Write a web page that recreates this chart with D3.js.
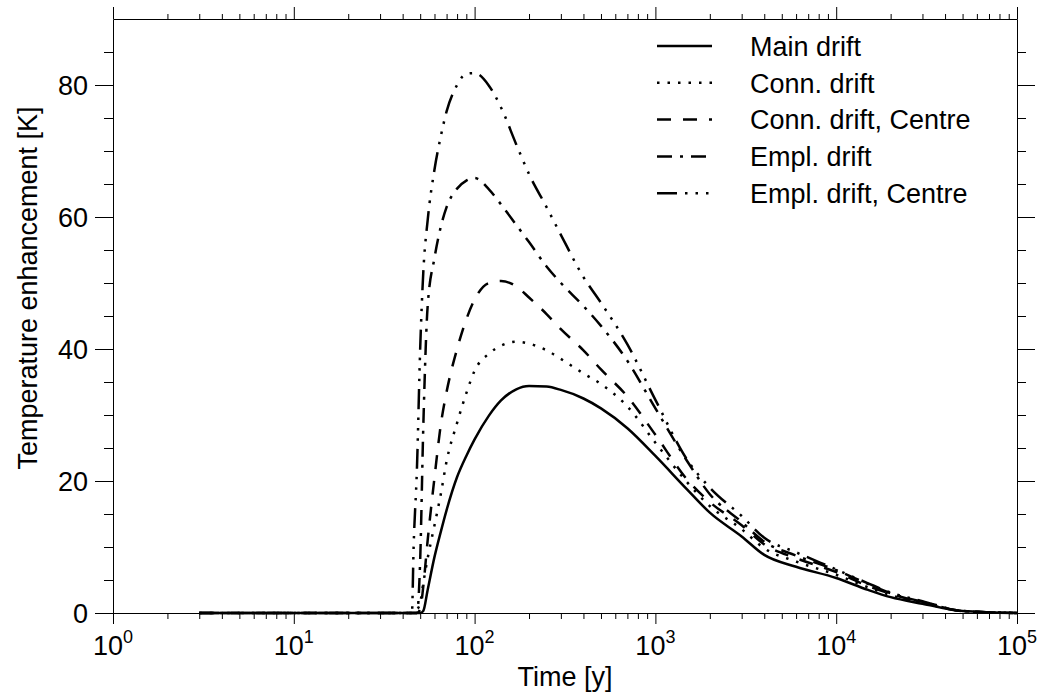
<!DOCTYPE html>
<html>
<head>
<meta charset="utf-8">
<script src="https://cdn.jsdelivr.net/npm/d3@7"></script>
<style>
  body { margin: 0; background: #fff; }
  svg { display: block; }
  text { font-family: "Liberation Sans", Arial, sans-serif; fill: #000; }
</style>
</head>
<body>
<svg id="chart" width="1043" height="697"></svg>
<script>
// time grid in years, shared by all series
const times = [3, 45, 46, 48, 50, 52, 55, 60, 65, 70, 80, 90, 100, 120, 140, 170, 200, 250, 300, 400,
  500, 700, 1000, 1500, 2000, 3000, 4000, 6000, 10000, 15000, 20000, 30000, 50000, 100000];

// temperature enhancement [K]
const mainDrift = [0, 0, 0, 0, 0, 0.3, 3.5, 8.5, 12.3, 15.6, 20.6, 23.8, 26.3, 29.9, 32.2, 33.9, 34.4, 34.3, 33.8, 32.5,
  31.0, 28.0, 23.8, 18.7, 15.2, 11.6, 8.8, 7.0, 5.3, 3.5, 2.4, 1.4, 0.3, 0];
const connDrift = [0, 0, 0, 0.5, 1.5, 4.5, 8.3, 13.3, 18, 23, 28.8, 33.3, 36.7, 39.3, 40.5, 41.1, 40.8, 39.8, 38.5, 36.3,
  34.7, 31.3, 25.8, 19.8, 16.2, 12.7, 9.8, 7.8, 5.8, 3.9, 2.7, 1.5, 0.3, 0];
const connCentre = [0, 0, 0, 0, 0.5, 4, 11, 20.5, 28.5, 33.5, 40, 44.5, 47.5, 50, 50.3, 49.5, 47.8, 45.3, 43, 39.8,
  36.9, 32.8, 27.0, 20.2, 16.8, 13.3, 10.4, 8.3, 6.2, 4.1, 2.9, 1.6, 0.3, 0];
const emplDrift = [0, 0, 0, 0, 8, 28, 46.5, 53.8, 58.5, 61.5, 64.3, 65.5, 65.9, 64.2, 61.9, 58.8, 56.2, 52.5, 50, 46.5,
  43.5, 38.2, 31.0, 23.0, 18.0, 13.8, 10.8, 8.7, 6.5, 4.4, 3.0, 1.7, 0.3, 0];
const emplCentre = [0, 0, 10, 22, 40, 51.5, 59.5, 67.2, 72.2, 76, 80, 81.7, 81.8, 79.9, 76.6, 71, 66.5, 61.5, 57.3, 50.9,
  47, 40.7, 32.3, 23.2, 19.0, 14.7, 11.4, 9.2, 6.6, 4.5, 3.1, 1.8, 0.3, 0];

const seriesNames = ["Main drift", "Conn. drift", "Conn. drift, Centre", "Empl. drift", "Empl. drift, Centre"];

const xMajorTicks = [1, 10, 100, 1000, 10000, 100000];
const yMajorTicks = [0, 20, 40, 60, 80];

const series = [
  {name: seriesNames[0], values: mainDrift, dash: null},
  {name: seriesNames[1], values: connDrift, dash: "2.5,8"},
  {name: seriesNames[2], values: connCentre, dash: "14,12"},
  {name: seriesNames[3], values: emplDrift, dash: "15,8,3,8"},
  {name: seriesNames[4], values: emplCentre, dash: "20,8,2.5,8,2.5,8,2.5,8"}
];

const svg = d3.select("#chart");
const plotL = 113, plotR = 1017, plotT = 19, plotB = 613;

const x = d3.scaleLog().domain([1, 1e5]).range([plotL, plotR]);
const y = d3.scaleLinear().domain([0, 90]).range([plotB, plotT]);

// minor ticks: 2..9 in each decade, every 5 K
const xMinorTicks = [];
xMajorTicks.slice(0, -1).forEach(d => { for (let k = 2; k < 10; k++) xMinorTicks.push(d * k); });
const yMinorTicks = d3.range(5, 90, 5).filter(v => v % 20 !== 0);

function drawAxis(axis, tr, cls) {
  const g = svg.append("g").attr("class", cls).attr("transform", tr).call(axis);
  g.selectAll("line").attr("stroke", "#000").attr("stroke-width", 1);
  g.selectAll(".domain").attr("stroke", "#000").attr("stroke-width", 1);
  g.selectAll("text").remove();
  return g;
}

// bottom
drawAxis(d3.axisBottom(x).tickValues(xMajorTicks).tickSize(11).tickSizeOuter(0), `translate(0,${plotB})`, "xb");
drawAxis(d3.axisBottom(x).tickValues(xMinorTicks).tickSize(6), `translate(0,${plotB})`, "xbm").select(".domain").remove();
// top
drawAxis(d3.axisTop(x).tickValues(xMajorTicks).tickSize(12).tickSizeOuter(0), `translate(0,${plotT})`, "xt");
drawAxis(d3.axisTop(x).tickValues(xMinorTicks).tickSize(5), `translate(0,${plotT})`, "xtm").select(".domain").remove();
// left
drawAxis(d3.axisLeft(y).tickValues(yMajorTicks).tickSize(18).tickSizeOuter(0), `translate(${plotL},0)`, "yl");
drawAxis(d3.axisLeft(y).tickValues(yMinorTicks).tickSize(9), `translate(${plotL},0)`, "ylm").select(".domain").remove();
// right
drawAxis(d3.axisRight(y).tickValues(yMajorTicks).tickSize(18).tickSizeOuter(0), `translate(${plotR},0)`, "yr");
drawAxis(d3.axisRight(y).tickValues(yMinorTicks).tickSize(9), `translate(${plotR},0)`, "yrm").select(".domain").remove();

// x tick labels 10^n
const xl = svg.append("g");
xMajorTicks.forEach(d => {
  const t = xl.append("text")
    .attr("x", x(d)).attr("y", 655)
    .attr("text-anchor", "middle")
    .style("font-size", "27px");
  t.append("tspan").text("10");
  t.append("tspan").attr("dy", -12).style("font-size", "18px").text(Math.round(Math.log10(d)));
});

// y tick labels
svg.append("g").selectAll("text")
  .data(yMajorTicks)
  .enter().append("text")
  .attr("x", 88).attr("y", d => y(d))
  .attr("dy", "0.36em")
  .attr("text-anchor", "end")
  .style("font-size", "27px")
  .text(d => d);

// axis titles
svg.append("text")
  .attr("x", (plotL + plotR) / 2).attr("y", 686)
  .attr("text-anchor", "middle")
  .style("font-size", "27px")
  .text("Time [y]");

svg.append("text")
  .attr("transform", "translate(37,288) rotate(-90)")
  .attr("text-anchor", "middle")
  .style("font-size", "27px")
  .text("Temperature enhancement [K]");

// curves
const line = d3.line()
  .x(d => x(d[0]))
  .y(d => y(d[1]))
  .curve(d3.curveMonotoneX);

svg.append("g").selectAll("path")
  .data(series)
  .enter().append("path")
  .attr("d", s => line(times.map((t, i) => [t, s.values[i]])))
  .attr("fill", "none")
  .attr("stroke", "#000")
  .attr("stroke-width", 2.5)
  .attr("stroke-dasharray", s => s.dash);

// legend
const legend = svg.append("g");
series.forEach((s, i) => {
  const ly = 46 + i * 36.8;
  legend.append("line")
    .attr("x1", 657).attr("x2", 712)
    .attr("y1", ly).attr("y2", ly)
    .attr("stroke", "#000")
    .attr("stroke-width", 2.5)
    .attr("stroke-dasharray", s.dash);
  legend.append("text")
    .attr("x", 750).attr("y", ly)
    .attr("dy", "0.36em")
    .style("font-size", "27px")
    .text(s.name);
});
</script>
</body>
</html>
